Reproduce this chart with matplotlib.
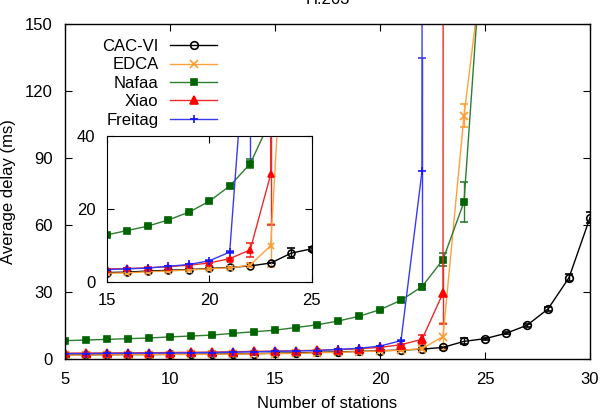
import matplotlib
matplotlib.use("Agg")
import matplotlib.pyplot as plt
from matplotlib.lines import Line2D

plt.rcParams['font.family'] = ['Liberation Sans', 'DejaVu Sans']
plt.rcParams['font.size'] = 12

title = "H.263"
xlabel = "Number of stations"
ylabel = "Average delay (ms)"

x_cac = list(range(5, 31))
y_cac = [1.9, 1.9, 1.95, 2.0, 2.0, 2.1, 2.15, 2.2, 2.3, 2.4, 2.6, 2.7, 3.0, 3.2, 3.4, 3.7, 4.0, 4.4, 5.2,
         7.9, 9.1, 11.5, 15.1, 22.4, 36.4, 63.3]
e_cac = [0.1] * 19 + [1.4, 0.5, 0.5, 0.6, 0.8, 1.6, 2.6]

x_edca = list(range(5, 26))
y_edca = [1.8, 1.8, 1.85, 1.9, 1.9, 2.0, 2.05, 2.1, 2.2, 2.3, 2.4, 2.5, 2.8, 3.0, 3.3, 3.6, 3.9, 4.6, 10.0,
          109.0, 185.0]
e_edca = [0.1] * 17 + [0.5, 6.0, 5.0, 5.0]

x_nafaa = list(range(5, 26))
y_nafaa = [8.2, 8.5, 8.8, 9.1, 9.4, 9.9, 10.3, 10.7, 11.5, 12.2, 12.9, 14.1, 15.3, 17.0, 19.1, 22.1, 26.3,
           32.4, 44.5, 70.3, 205.0]
e_nafaa = [0.2] * 15 + [0.4, 0.6, 1.2, 3.0, 9.0, 10.0]

x_xiao = list(range(5, 25))
y_xiao = [2.6, 2.65, 2.7, 2.75, 2.8, 2.9, 3.0, 3.1, 3.25, 3.4, 3.55, 3.7, 3.9, 4.2, 4.6, 5.2, 6.4, 8.8,
          29.5, 20000.0]
e_xiao = [0.1] * 16 + [0.3, 2.0, 14.0, 100.0]

x_freitag = list(range(5, 24))
y_freitag = [2.4, 2.45, 2.5, 2.55, 2.6, 2.7, 2.8, 2.9, 3.05, 3.2, 3.4, 3.6, 3.8, 4.3, 4.8, 5.8, 8.2, 84.0,
             20000.0]
e_freitag = [0.1] * 16 + [0.3, 51.0, 100.0]

series = [
    ("CAC-VI", x_cac, y_cac, e_cac, "black", "black", "o", "none", 5.5),
    ("EDCA", x_edca, y_edca, e_edca, "#FFA03C", "#FF9A30", "x", None, 5.5),
    ("Nafaa", x_nafaa, y_nafaa, e_nafaa, "#2E7D2E", "#006400", "s", None, 5),
    ("Xiao", x_xiao, y_xiao, e_xiao, "#EE2A2A", "#FF0000", "^", None, 5.5),
    ("Freitag", x_freitag, y_freitag, e_freitag, "#3A3AF5", "#1515FF", "+", None, 6),
]

fig = plt.figure(figsize=(6.03, 4.12), dpi=100)
ax = fig.add_axes([65 / 603, 1 - 359 / 412, 525 / 603, 335 / 412])
axin = fig.add_axes([106.7 / 603, 1 - 282 / 412, 205 / 603, 146 / 412])


def draw(a, ms_scale=1.0):
    for name, xs, ys, es, lc, mc, mk, mfc, ms in series:
        a.errorbar(xs, ys, yerr=es, color=lc, ecolor=lc, elinewidth=1.0, capsize=3, capthick=1.0,
                   lw=1.0, marker=mk, ms=ms * ms_scale, mec=mc,
                   mfc=(mfc if mfc else mc), mew=1.2)


draw(ax)
ax.set_xlim(5, 30)
ax.set_ylim(0, 150)
ax.set_xticks([5, 10, 15, 20, 25, 30])
ax.set_yticks([0, 30, 60, 90, 120, 150])
ax.tick_params(direction='in', top=True, right=True, length=5, width=0.8, labelsize=12)
ax.tick_params(axis='x', pad=9)
ax.tick_params(axis='y', pad=9)
ax.set_xlabel(xlabel, labelpad=7)
ax.set_ylabel(ylabel, labelpad=6)
ax.set_title(title, pad=14.5, fontsize=12)
for s in ax.spines.values():
    s.set_linewidth(1.0)

handles = []
for name, xs, ys, es, lc, mc, mk, mfc, ms in series:
    handles.append(Line2D([], [], color=lc, lw=1.0, marker=mk, ms=ms, mec=mc,
                          mfc=(mfc if mfc else mc), mew=1.2, label=name))
ax.legend(handles=handles, loc='upper left', bbox_to_anchor=(23 / 525, 1 - 1 / 335), markerfirst=False,
          frameon=False, handlelength=2.8, handletextpad=0.7, labelspacing=0.2,
          borderaxespad=0.45, borderpad=0.4, fontsize=12)

draw(axin, ms_scale=0.9)
axin.set_xlim(15, 25)
axin.set_ylim(0, 40)
axin.set_xticks([15, 20, 25])
axin.set_yticks([0, 20, 40])
axin.tick_params(direction='in', top=True, right=True, length=5, width=0.8, pad=8, labelsize=12)
axin.set_facecolor('white')

fig.savefig("out.png", dpi=100)
